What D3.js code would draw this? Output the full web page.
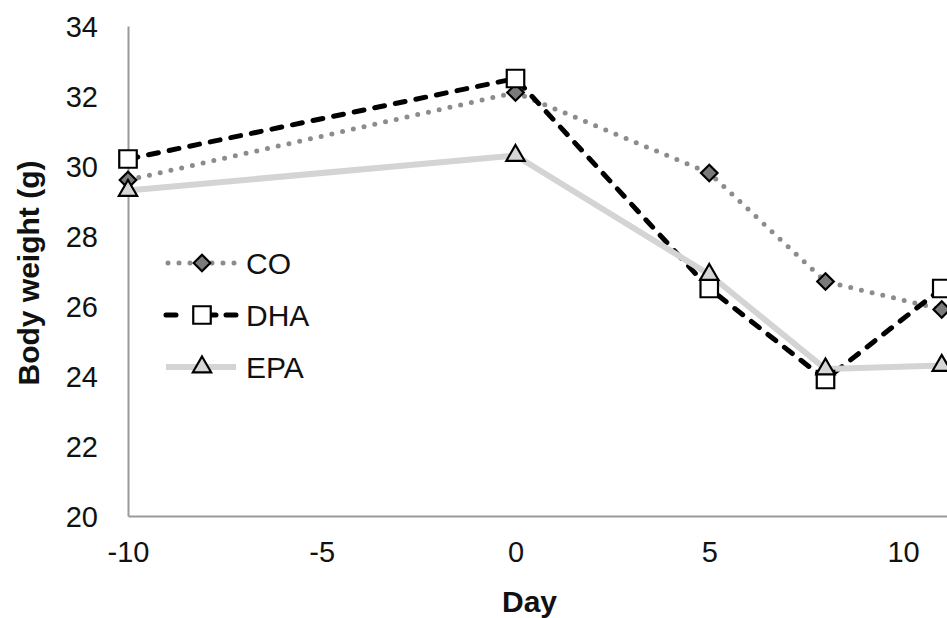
<!DOCTYPE html>
<html>
<head>
<meta charset="utf-8">
<script src="https://cdn.jsdelivr.net/npm/d3@7"></script>
<style>
    html, body { margin: 0; padding: 0; background: #fff; overflow: hidden; }
    text { font-family: "Liberation Sans", Arial, sans-serif; fill: #111; }
</style>
</head>
<body>
<div id="chart"></div>
<script>
const days = [-10, 0, 5, 8, 11];
const coValues = [29.6, 32.1, 29.8, 26.7, 25.9];
const dhaValues = [30.2, 32.5, 26.5, 23.9, 26.5];
const epaValues = [29.3, 30.3, 26.9, 24.2, 24.3];
const xTicks = [-10, -5, 0, 5, 10];
const yTicks = [20, 22, 24, 26, 28, 30, 32, 34];
const seriesNames = ["CO", "DHA", "EPA"];

const width = 947, height = 618;
const margin = {left: 128, top: 26, bottom: 102};

const svg = d3.select("#chart").append("svg")
    .attr("width", width)
    .attr("height", height);

// x scale runs past the right edge, as in the cropped original
const xScale = d3.scaleLinear().domain([-10, 12]).range([margin.left, margin.left + 22 * 38.75]);
const yScale = d3.scaleLinear().domain([20, 34]).range([height - margin.bottom, margin.top]);

const series = [
    {name: "CO", values: coValues, color: "#8c8c8c", width: 5, dash: "0 11", cap: "round", symbol: d3.symbolDiamond2, fill: "#7a7a7a", size: 175},
    {name: "DHA", values: dhaValues, color: "#000", width: 5, dash: "10 11", cap: "round", symbol: d3.symbolSquare2, fill: "#fff", size: 390},
    {name: "EPA", values: epaValues, color: "#d4d4d4", width: 6, dash: null, cap: "butt", symbol: d3.symbolTriangle2, fill: "#d6d6d6", size: 240}
];

// axes
const yAxis = svg.append("g")
    .attr("transform", `translate(${margin.left},0)`)
    .call(d3.axisLeft(yScale).tickValues(yTicks).tickSize(0).tickPadding(30).tickFormat(d => String(d)));
yAxis.select(".domain").attr("stroke", "#9a9a9a").attr("stroke-width", 2);
yAxis.selectAll("text").style("font-size", "29px").attr("dy", "0.35em");

const xAxis = svg.append("g")
    .attr("transform", `translate(0,${yScale(20)})`)
    .call(d3.axisBottom(xScale).tickValues(xTicks).tickSize(0).tickPadding(25).tickFormat(d => String(d)));
xAxis.select(".domain").attr("stroke", "#9a9a9a").attr("stroke-width", 2);
xAxis.selectAll("text").style("font-size", "29px");

// axis titles
svg.append("text")
    .attr("transform", `translate(39,${(yScale(20) + yScale(34)) / 2 + 2}) rotate(-90)`)
    .attr("text-anchor", "middle")
    .style("font-size", "30px")
    .style("font-weight", "bold")
    .text("Body weight (g)");

svg.append("text")
    .attr("x", xScale(0) + 14)
    .attr("y", 612)
    .attr("text-anchor", "middle")
    .style("font-size", "30px")
    .style("font-weight", "bold")
    .text("Day");

// lines and markers
const line = d3.line().x(d => xScale(d[0])).y(d => yScale(d[1]));

series.forEach(function(s) {
    const pts = days.map((d, i) => [d, s.values[i]]);
    svg.append("path")
        .datum(pts)
        .attr("d", line)
        .attr("fill", "none")
        .attr("stroke", s.color)
        .attr("stroke-width", s.width)
        .attr("stroke-dasharray", s.dash)
        .attr("stroke-linecap", s.cap)
        .attr("stroke-linejoin", "round");
});

series.forEach(function(s) {
    const pts = days.map((d, i) => [d, s.values[i]]);
    svg.append("g").selectAll("path")
        .data(pts)
        .join("path")
        .attr("transform", d => `translate(${xScale(d[0])},${yScale(d[1])})`)
        .attr("d", d3.symbol().type(s.symbol).size(s.size))
        .attr("fill", s.fill)
        .attr("stroke", "#000")
        .attr("stroke-width", 2.2);
});

// legend
const legendY = [263, 315, 367];
series.forEach(function(s, i) {
    const g = svg.append("g").attr("transform", `translate(0,${legendY[i]})`);
    g.append("line")
        .attr("x1", s.name === "CO" ? 168 : 166).attr("x2", 236)
        .attr("stroke", s.color)
        .attr("stroke-width", s.width)
        .attr("stroke-dasharray", s.name === "DHA" ? "10 30 10" : s.dash)
        .attr("stroke-linecap", s.cap);
    g.append("path")
        .attr("transform", "translate(202,0)")
        .attr("d", d3.symbol().type(s.symbol).size(s.size))
        .attr("fill", s.fill)
        .attr("stroke", "#000")
        .attr("stroke-width", 2.2);
    g.append("text")
        .attr("x", 246)
        .attr("dy", "0.36em")
        .style("font-size", "30px")
        .text(s.name);
});
</script>
</body>
</html>
